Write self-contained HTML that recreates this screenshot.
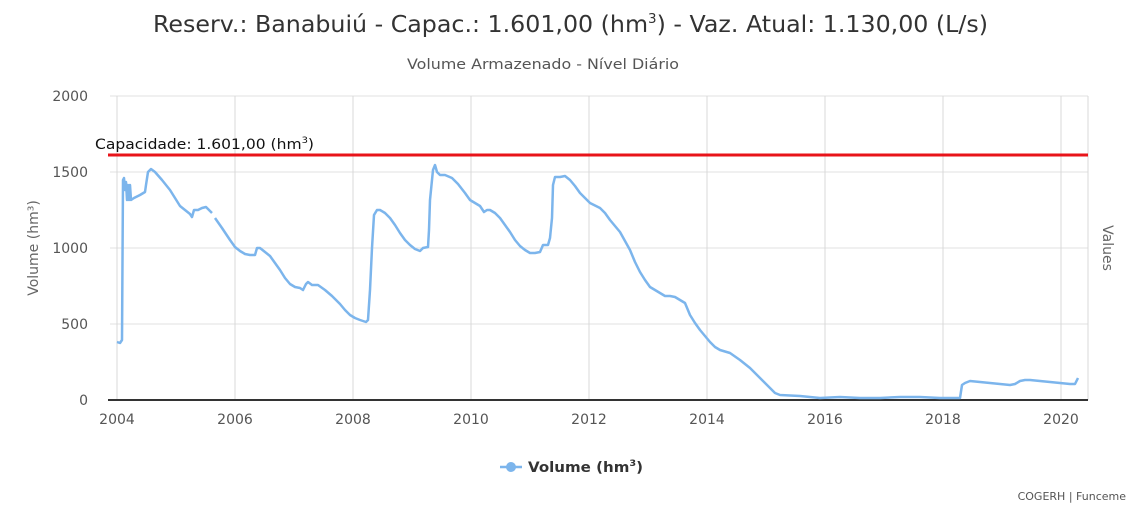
<!DOCTYPE html>
<html><head><meta charset="utf-8"><style>
body{margin:0;background:#fff;width:1140px;height:508px;overflow:hidden;font-family:"DejaVu Sans","Liberation Sans",sans-serif;}
</style></head><body>
<svg width="1140" height="508" xmlns="http://www.w3.org/2000/svg" font-family="DejaVu Sans, Liberation Sans, sans-serif">
<text x="153" y="32" font-size="23" fill="#333" textLength="835" lengthAdjust="spacingAndGlyphs">Reserv.: Banabuiú - Capac.: 1.601,00 (hm<tspan font-size="13" dy="-9">3</tspan><tspan dy="9">) - Vaz. Atual: 1.130,00 (L/s)</tspan></text>
<text x="407" y="69" font-size="14" fill="#555" textLength="272" lengthAdjust="spacingAndGlyphs">Volume Armazenado - Nível Diário</text>
<g stroke="#e0e0e0" stroke-width="1">
<line x1="110" x2="1088" y1="96" y2="96"/><line x1="110" x2="1088" y1="172" y2="172"/>
<line x1="110" x2="1088" y1="248" y2="248"/><line x1="110" x2="1088" y1="324" y2="324"/>
</g>
<g stroke="#d8d8d8" stroke-width="1">
<line x1="117" x2="117" y1="96" y2="400"/><line x1="235" x2="235" y1="96" y2="400"/><line x1="353" x2="353" y1="96" y2="400"/><line x1="471" x2="471" y1="96" y2="400"/><line x1="589" x2="589" y1="96" y2="400"/><line x1="707" x2="707" y1="96" y2="400"/><line x1="825" x2="825" y1="96" y2="400"/><line x1="943" x2="943" y1="96" y2="400"/><line x1="1061" x2="1061" y1="96" y2="400"/><line x1="1088" x2="1088" y1="96" y2="400"/>
</g>
<line x1="108" x2="1088" y1="400" y2="400" stroke="#333" stroke-width="2"/>
<g fill="#555" font-size="14" text-anchor="end">
<text x="88" y="101">2000</text><text x="88" y="177">1500</text><text x="88" y="253">1000</text><text x="88" y="329">500</text><text x="88" y="405">0</text>
</g>
<g fill="#555" font-size="14" text-anchor="middle">
<text x="117" y="424">2004</text><text x="235" y="424">2006</text><text x="353" y="424">2008</text><text x="471" y="424">2010</text><text x="589" y="424">2012</text><text x="707" y="424">2014</text><text x="825" y="424">2016</text><text x="943" y="424">2018</text><text x="1061" y="424">2020</text>
</g>
<text transform="translate(38,248) rotate(-90)" text-anchor="middle" font-size="14" fill="#666">Volume (hm³)</text>
<text transform="translate(1103,248) rotate(90)" text-anchor="middle" font-size="14" fill="#666">Values</text>
<line x1="108" x2="1088" y1="155" y2="155" stroke="#e8141a" stroke-width="3"/>
<text x="95" y="149" font-size="14" fill="#111" textLength="219" lengthAdjust="spacingAndGlyphs">Capacidade: 1.601,00 (hm<tspan font-size="9" dy="-6">3</tspan><tspan dy="6">)</tspan></text>
<g fill="none" stroke="#7cb5ec" stroke-width="2.5" stroke-linejoin="round">
<polyline points="117,342 120,343 122,340 123,180 124,178 125,190 126,182 127,200 128,185 129,200 130,185 131,200 134,198 140,195 145,192 146,185 148,172 151,169 155,172 162,180 170,190 175,198 180,206 185,210 190,214 192,217 194,210 198,210 202,208 206,207 210,211 212,213"/>
<polyline points="215,218 222,228 230,240 235,247 240,251 245,254 250,255 255,255 257,248 260,248 265,252 270,256 275,263 280,270 285,278 290,284 295,287 300,288 303,290 306,284 308,282 312,285 318,285 325,290 332,296 340,304 345,310 350,315 355,318 360,320 366,322 368,320 370,290 372,248 374,215 377,210 380,210 385,213 390,218 395,225 400,233 405,240 410,245 415,249 420,251 423,248 428,247 429,230 430,200 433,170 435,165 437,172 440,175 445,175 452,178 458,184 465,193 470,200 475,203 480,206 484,212 487,210 490,210 495,213 500,218 505,225 510,232 515,240 520,246 525,250 530,253 535,253 540,252 543,245 548,245 550,238 552,218 553,185 555,177 560,177 565,176 570,180 575,186 580,193 585,198 590,203 600,208 605,213 610,220 615,226 620,232 625,241 630,250 635,262 640,272 645,280 650,287 655,290 660,293 665,296 670,296 675,297 680,300 685,303 690,315 695,323 700,330 705,336 710,342 715,347 720,350 730,353 740,360 750,368 760,378 770,388 775,393 780,395 800,396 820,398 840,397 860,398 880,398 900,397 920,397 940,398 960,398 962,385 965,383 970,381 980,382 990,383 1000,384 1010,385 1015,384 1020,381 1025,380 1030,380 1040,381 1050,382 1060,383 1070,384 1075,384 1078,378"/>
</g>
<line x1="500" x2="522" y1="467" y2="467" stroke="#7cb5ec" stroke-width="2.5"/>
<circle cx="511" cy="467" r="5" fill="#7cb5ec"/>
<text x="528" y="472" font-size="14" font-weight="bold" fill="#333" textLength="115" lengthAdjust="spacingAndGlyphs">Volume (hm<tspan font-size="9" dy="-6">3</tspan><tspan dy="6">)</tspan></text>
<text x="1126" y="500" text-anchor="end" font-size="11" fill="#555">COGERH | Funceme</text>
</svg>
</body></html>
